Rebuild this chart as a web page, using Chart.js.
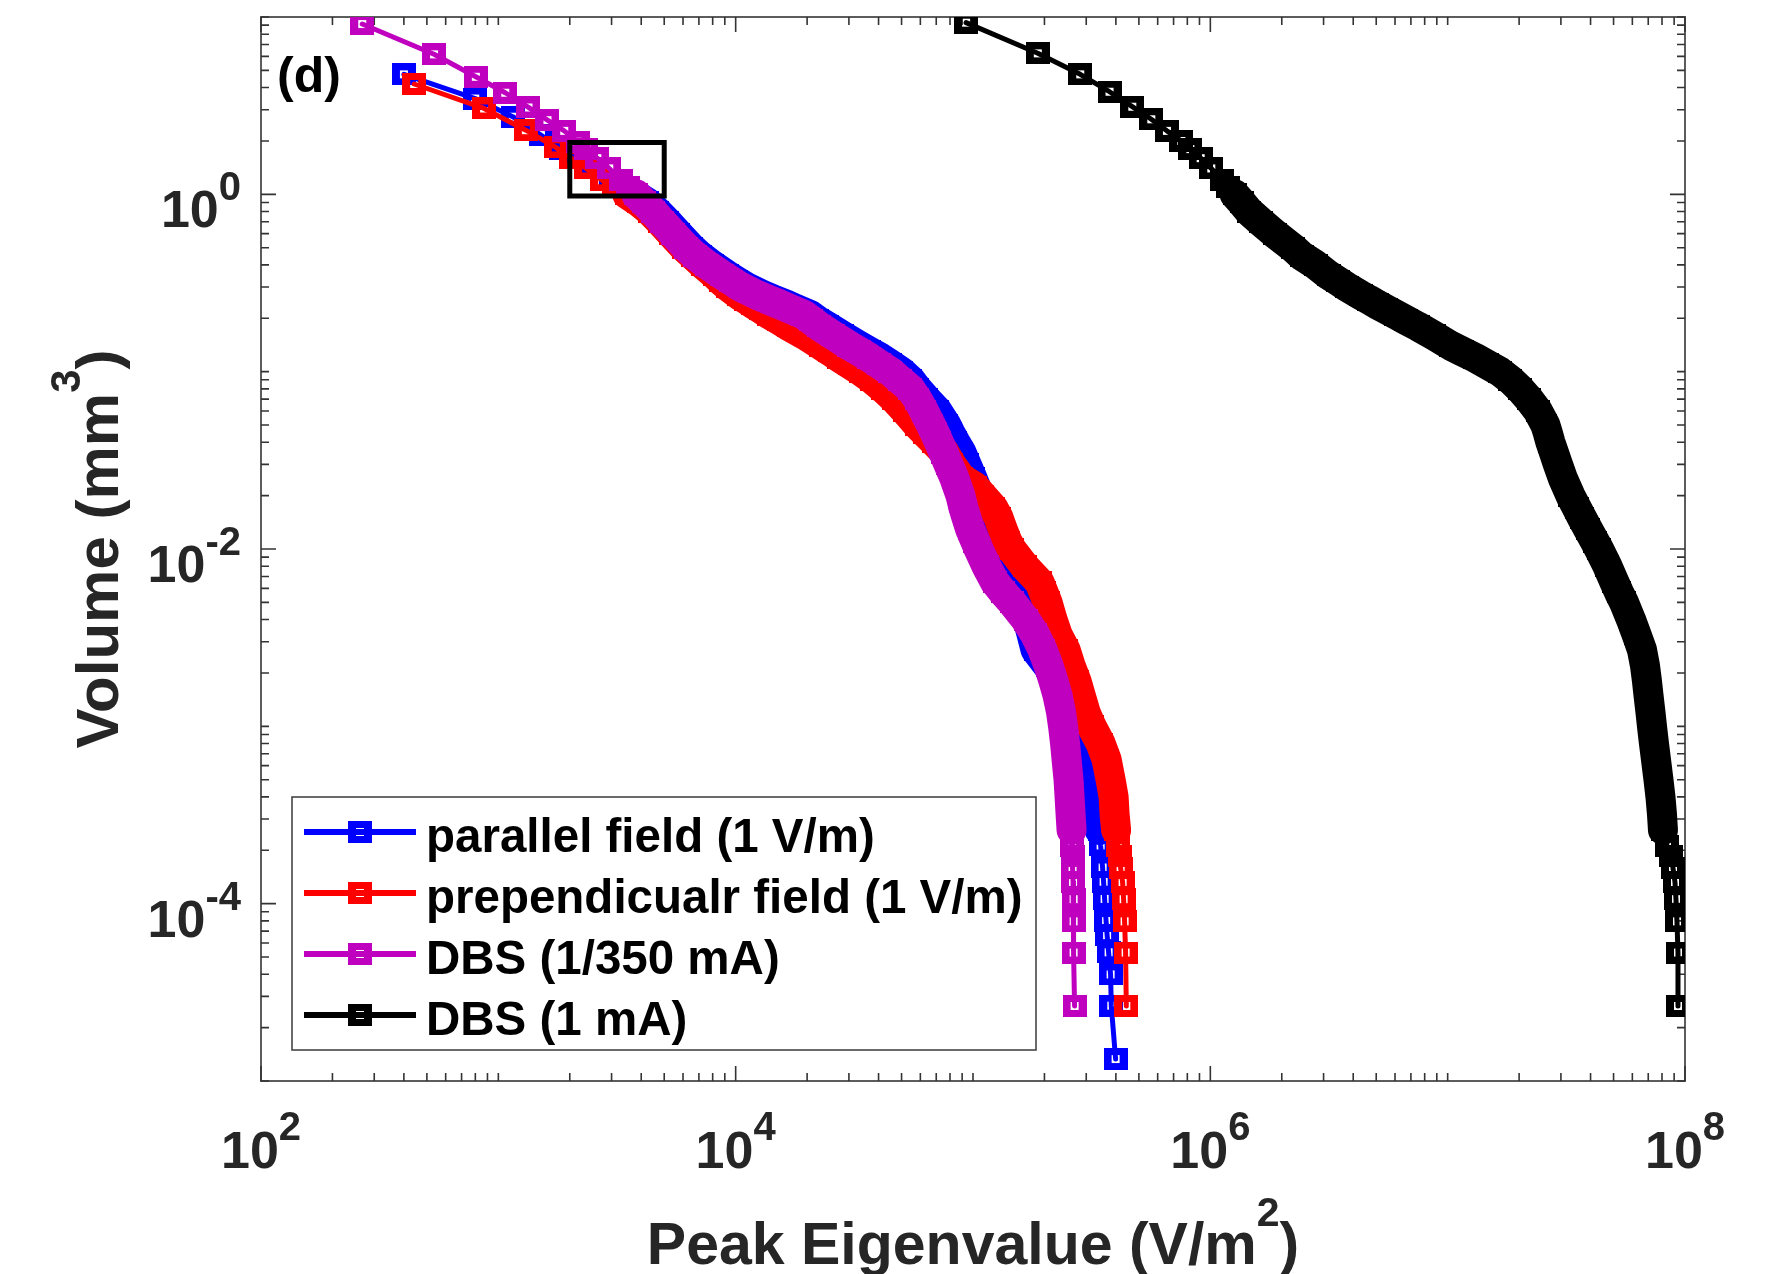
<!DOCTYPE html>
<html>
<head>
<meta charset="utf-8">
<script src="https://cdn.jsdelivr.net/npm/chart.js@4.4.1/dist/chart.umd.min.js"></script>
<style>
  html, body { margin: 0; padding: 0; background: #ffffff; }
  canvas { display: block; }
</style>
</head>
<body>
<canvas id="chart" width="1773" height="1274"></canvas>
<script>
// Cumulative volume (mm^3) above each peak eigenvalue threshold (V/m^2).

// parallel field (1 V/m)
const parallelEigen = [
  400, 799, 1150, 1511,
  1840, 2129, 2511, 2990, 3327, 3738, 4241, 4674, 5151, 5730,
  6502, 7096, 7972, 9222, 10070, 11090, 13080, 14410, 16200, 18030,
  20450, 22090, 24350, 28170, 33220, 36610, 40720, 44890, 49940, 54500,
  58340, 63670, 70850, 77310, 80370, 84370, 89430, 93890, 99520, 106500,
  111800, 117300, 123200, 129300, 133100, 142500, 151100, 156300, 161700, 169800, 176500,
  183400, 206100, 231500, 255200, 275700, 289400, 303900, 322100, 326900, 331700,
  338200, 341500,
  344900, 351600, 355000, 358500, 363700, 367300, 372600, 379900, 382500, 398900
];
const parallelVolume = [
  4.75, 3.47, 2.74, 2.16,
  1.8, 1.6, 1.4, 1.2, 1.1, 1.0, 0.9, 0.8, 0.7, 0.6,
  0.5, 0.45, 0.4, 0.35, 0.325, 0.3, 0.27, 0.255, 0.24, 0.225,
  0.21, 0.195, 0.18, 0.16, 0.14, 0.13, 0.12, 0.11, 0.1, 0.09,
  0.08, 0.07, 0.06, 0.05, 0.045, 0.04, 0.035, 0.03, 0.025, 0.02,
  0.017, 0.015, 0.013, 0.011, 0.01, 0.008, 0.0065, 0.0057, 0.005, 0.004, 0.0033,
  0.0027, 0.0022, 0.0018, 0.0015, 0.0012, 0.001, 0.0008, 0.00065, 0.0005, 0.0004,
  0.00032, 0.00026,
  0.000213, 0.00016, 0.000133, 0.0001064, 0.0000798, 0.0000665, 0.0000532, 0.0000399, 0.0000266, 0.0000133
];

// perpendicular field (1 V/m)
const perpEigen = [
  442, 871, 1306, 1746,
  2028, 2346, 2740, 3079, 3493, 3924, 4368, 4812, 5355,
  6075, 6629, 7305, 8207, 8700, 9314, 10360, 11090, 11870, 12830,
  13870, 15280, 16840, 19670, 22970, 25070, 27360, 30300, 33870, 37700,
  41950, 46670, 51930, 58340, 63060, 68800, 75820, 81150, 89430, 101500, 109600,
  122000, 128100, 133100, 139800, 145300, 164900, 190700, 198300, 206100, 216300, 227000,
  245500, 257700, 273100, 284000, 298100, 316000, 344900, 365500, 379900, 391200,
  395000, 400800,
  406700, 414700, 418700, 426900, 431000, 435200, 439500, 442500
];
const perpVolume = [
  4.19, 3.05, 2.30, 1.84,
  1.6, 1.4, 1.2, 1.1, 1.0, 0.9, 0.8, 0.7, 0.6,
  0.5, 0.45, 0.4, 0.35, 0.325, 0.3, 0.27, 0.255, 0.24, 0.225,
  0.21, 0.195, 0.18, 0.16, 0.14, 0.13, 0.12, 0.11, 0.1, 0.09,
  0.08, 0.07, 0.06, 0.05, 0.045, 0.04, 0.035, 0.03, 0.025, 0.0225, 0.02,
  0.017, 0.015, 0.013, 0.011, 0.01, 0.008, 0.0065, 0.0057, 0.005, 0.004, 0.0033,
  0.0027, 0.0022, 0.0018, 0.0015, 0.0012, 0.001, 0.0008, 0.00065, 0.0005, 0.0004,
  0.00032, 0.00026,
  0.000212, 0.0001855, 0.000159, 0.0001325, 0.000106, 0.0000795, 0.000053, 0.0000265
];

// DBS (1/350 mA)
const dbsLowEigen = [
  267, 536, 804, 1069, 1340, 1611, 1895, 2158,
  2346, 2611, 2933, 3295, 3527, 3811, 4120, 4496, 4907, 5459,
  6194, 6759, 7596, 8787, 9587, 10520, 12340, 13670, 15280, 17080,
  19290, 20840, 22530, 25810, 30160, 33220, 36610, 40330, 44890, 49220,
  54500, 58340, 62150, 66510, 69140, 71880, 75090, 78830, 83560, 88570,
  91180, 93890, 97120, 102400, 105500, 114000, 123800, 133800, 146000, 166500, 182600,
  196300, 208100, 218400, 227000, 235000, 239600, 244300, 247900, 252700, 255200,
  257700, 260200,
  261500, 262700, 262700, 264000, 265300, 265300, 265300, 267900
];
const dbsLowVolume = [
  9.13, 6.16, 4.6, 3.74, 3.09, 2.62, 2.28, 1.98,
  1.8, 1.6, 1.4, 1.2, 1.1, 1.0, 0.9, 0.8, 0.7, 0.6,
  0.5, 0.45, 0.4, 0.35, 0.325, 0.3, 0.27, 0.255, 0.24, 0.225,
  0.21, 0.195, 0.18, 0.16, 0.14, 0.13, 0.12, 0.11, 0.1, 0.09,
  0.08, 0.07, 0.06, 0.05, 0.045, 0.04, 0.035, 0.03, 0.025, 0.02,
  0.017, 0.015, 0.013, 0.011, 0.01, 0.008, 0.0065, 0.0057, 0.005, 0.004, 0.0033,
  0.0027, 0.0022, 0.0018, 0.0015, 0.0012, 0.001, 0.0008, 0.00065, 0.0005, 0.0004,
  0.00032, 0.00026,
  0.000212, 0.0001855, 0.000159, 0.0001325, 0.000106, 0.0000795, 0.000053, 0.0000265
];

// DBS (1 mA)
const dbsEigen = [
  9.35e4, 1.875e5, 2.83e5, 3.76e5, 4.69e5, 5.64e5, 6.56e5, 7.55e5,
  8.236e5, 9.105e5, 1.009e6, 1.121e6, 1.189e6, 1.266e6, 1.356e6, 1.458e6, 1.630e6, 1.867e6,
  2.224e6, 2.427e6, 2.781e6, 3.155e6, 3.443e6, 3.775e6, 4.303e6, 4.651e6, 5.027e6, 5.486e6,
  6.046e6, 6.694e6, 7.485e6, 8.743e6, 1.031e7, 1.153e7, 1.302e7, 1.463e7, 1.659e7, 1.838e7,
  2.015e7, 2.199e7, 2.400e7, 2.580e7, 2.644e7, 2.709e7, 2.803e7, 2.914e7, 3.059e7, 3.290e7,
  3.504e7, 3.678e7, 3.898e7, 4.173e7, 4.338e7, 4.713e7, 5.044e7, 5.268e7, 5.530e7, 5.920e7, 6.245e7,
  6.588e7, 6.782e7, 6.914e7, 7.017e7, 7.154e7, 7.259e7, 7.400e7, 7.546e7, 7.731e7, 7.882e7,
  7.997e7, 8.075e7,
  8.395e7, 8.727e7, 8.898e7, 9.072e7, 9.161e7, 9.250e7, 9.342e7, 9.342e7
];
const dbsVolume = [
  9.29, 6.24, 4.75, 3.79, 3.12, 2.65, 2.28, 2.0,
  1.8, 1.6, 1.4, 1.2, 1.1, 1.0, 0.9, 0.8, 0.7, 0.6,
  0.5, 0.45, 0.4, 0.35, 0.325, 0.3, 0.27, 0.255, 0.24, 0.225,
  0.21, 0.195, 0.18, 0.16, 0.14, 0.13, 0.12, 0.11, 0.1, 0.09,
  0.08, 0.07, 0.06, 0.05, 0.045, 0.04, 0.035, 0.03, 0.025, 0.02,
  0.017, 0.015, 0.013, 0.011, 0.01, 0.008, 0.0065, 0.0057, 0.005, 0.004, 0.0033,
  0.0027, 0.0022, 0.0018, 0.0015, 0.0012, 0.001, 0.0008, 0.00065, 0.0005, 0.0004,
  0.00032, 0.00026,
  0.000212, 0.0001855, 0.000159, 0.0001325, 0.000106, 0.0000795, 0.000053, 0.0000265
];

// highlighted region
const regionEigen = [2000, 5000, 5000, 2000, 2000];
const regionVolume = [0.98, 0.98, 1.96, 1.96, 0.98];

// labelled decades
const xTickValues = [1e2, 1e4, 1e6, 1e8];
const xTickExponents = ['2', '4', '6', '8'];
const yTickValues = [1e-4, 1e-2, 1e0];
const yTickExponents = ['-4', '-2', '0'];

const seriesLabels = ['parallel field (1 V/m)', 'prependicualr field (1 V/m)', 'DBS (1/350 mA)', 'DBS (1 mA)'];
const seriesColors = ['#0000ff', '#ff0000', '#bf00bf', '#000000'];

const FONT = '"Liberation Sans", Arial, Helvetica, sans-serif';
const TEXT = '#262626';

function toPoints(xs, ys) {
  return xs.map((x, i) => ({ x: x, y: ys[i] }));
}

// square marker, slightly wider than tall; hollow unless packed into the band
function squareMarker(color, hollow) {
  const c = document.createElement('canvas');
  c.width = 24; c.height = 22;
  const g = c.getContext('2d');
  g.fillStyle = color;
  g.fillRect(0, 0, 24, 22);
  if (hollow) g.clearRect(8, 7, 8, 8);
  return c;
}
const hollowMarkers = seriesColors.map(c => squareMarker(c, true));
const solidMarkers = seriesColors.map(c => squareMarker(c, false));

const seriesData = [
  toPoints(parallelEigen, parallelVolume),
  toPoints(perpEigen, perpVolume),
  toPoints(dbsLowEigen, dbsLowVolume),
  toPoints(dbsEigen, dbsVolume)
];
const drawOrder = [3, 2, 1, 4];
// index range where markers overlap into one continuous band
const bandRange = [[9, 66], [8, 66], [13, 70], [13, 70]];

const datasets = seriesData.map((pts, i) => {
  const [b0, b1] = bandRange[i];
  const inBand = k => k >= b0 && k <= b1;
  return {
    label: seriesLabels[i],
    data: pts,
    showLine: true,
    borderColor: seriesColors[i],
    backgroundColor: seriesColors[i],
    borderWidth: 5,
    borderJoinStyle: 'round',
    borderCapStyle: 'round',
    segment: {
      borderWidth: ctx => (inBand(ctx.p0DataIndex) && inBand(ctx.p1DataIndex)) ? 30 : 5
    },
    pointStyle: ctx => inBand(ctx.dataIndex) ? solidMarkers[i] : hollowMarkers[i],
    pointRadius: 11,
    pointHoverRadius: 11,
    order: drawOrder[i]
  };
});
datasets.push({
  label: 'region',
  data: toPoints(regionEigen, regionVolume),
  showLine: true,
  borderColor: '#000000',
  borderWidth: 5,
  borderCapStyle: 'square',
  borderJoinStyle: 'miter',
  pointRadius: 0,
  pointHoverRadius: 0,
  order: 0
});

// text made of runs with different sizes and baselines (for exponents)
function drawRich(g, parts, x, y, align) {
  const widths = parts.map(p => { g.font = 'bold ' + p.size + 'px ' + FONT; return g.measureText(p.text).width; });
  const total = widths.reduce((s, w) => s + w, 0);
  let cx = align === 'center' ? x - total / 2 : (align === 'right' ? x - total : x);
  g.textAlign = 'left';
  g.textBaseline = 'alphabetic';
  parts.forEach((p, i) => {
    g.font = 'bold ' + p.size + 'px ' + FONT;
    g.fillText(p.text, cx, y - (p.raise || 0));
    cx += widths[i];
  });
}

const axesFrame = {
  id: 'axesFrame',
  beforeDatasetsDraw(chart) {
    const g = chart.ctx, a = chart.chartArea;
    const xs = chart.scales.x, ys = chart.scales.y;
    g.save();
    g.strokeStyle = '#5c5c5c';
    g.lineWidth = 2;
    g.strokeRect(a.left, a.top, a.right - a.left, a.bottom - a.top);

    g.strokeStyle = '#333333';
    g.lineWidth = 1.6;
    g.beginPath();
    // x ticks: decades 10^2 .. 10^8, long ticks on labelled decades
    for (let d = 2; d <= 8; d++) {
      for (let m = 1; m <= 9; m++) {
        if (d === 8 && m > 1) break;
        const px = xs.getPixelForValue(m * Math.pow(10, d));
        const len = (m === 1 && d % 2 === 0) ? 15 : 8;
        g.moveTo(px, a.bottom); g.lineTo(px, a.bottom - len);
        g.moveTo(px, a.top); g.lineTo(px, a.top + len);
      }
    }
    // y ticks: decades 10^-5 .. 10^1, long ticks on labelled decades
    for (let d = -5; d <= 1; d++) {
      for (let m = 1; m <= 9; m++) {
        if (d === 1 && m > 1) break;
        const py = ys.getPixelForValue(m * Math.pow(10, d));
        const len = (m === 1 && d % 2 === 0 && d > -5) ? 15 : 8;
        g.moveTo(a.left, py); g.lineTo(a.left + len, py);
        g.moveTo(a.right, py); g.lineTo(a.right - len, py);
      }
    }
    g.stroke();
    g.restore();
  },
  afterDatasetsDraw(chart) {
    const g = chart.ctx, a = chart.chartArea;
    const xs = chart.scales.x, ys = chart.scales.y;
    g.save();
    g.fillStyle = TEXT;

    xTickValues.forEach((v, i) => {
      const px = xs.getPixelForValue(v);
      drawRich(g, [{ text: '10', size: 52 }, { text: xTickExponents[i], size: 40, raise: 28 }], px, a.bottom + 87, 'center');
    });
    yTickValues.forEach((v, i) => {
      const py = ys.getPixelForValue(v);
      drawRich(g, [{ text: '10', size: 52 }, { text: yTickExponents[i], size: 40, raise: 27 }], a.left - 20, py + 33, 'right');
    });

    // axis titles
    drawRich(g, [{ text: 'Peak Eigenvalue (V/m', size: 59 }, { text: '2', size: 41, raise: 38 }, { text: ')', size: 59 }],
      (a.left + a.right) / 2, 1264, 'center');
    g.save();
    g.translate(118, (a.top + a.bottom) / 2);
    g.rotate(-Math.PI / 2);
    drawRich(g, [{ text: 'Volume (mm', size: 60 }, { text: '3', size: 42, raise: 38 }, { text: ')', size: 60 }], 0, 0, 'center');
    g.restore();

    // panel tag
    g.fillStyle = '#000000';
    drawRich(g, [{ text: '(d)', size: 50 }], a.left + 16, 92, 'left');

    // legend
    const L = { left: 292, top: 797, right: 1036, bottom: 1050 };
    g.fillStyle = '#ffffff';
    g.fillRect(L.left, L.top, L.right - L.left, L.bottom - L.top);
    g.strokeStyle = '#3a3a3a';
    g.lineWidth = 1.5;
    g.strokeRect(L.left, L.top, L.right - L.left, L.bottom - L.top);
    seriesLabels.forEach((label, i) => {
      const cy = 832 + i * 61;
      g.strokeStyle = seriesColors[i];
      g.lineWidth = 6;
      g.beginPath();
      g.moveTo(304, cy); g.lineTo(416, cy);
      g.stroke();
      g.drawImage(hollowMarkers[i], 360 - 12, cy - 11);
      g.fillStyle = '#000000';
      drawRich(g, [{ text: label, size: 47.5 }], 426, cy + 20, 'left');
    });
    g.restore();
  }
};

new Chart(document.getElementById('chart'), {
  type: 'scatter',
  data: { datasets: datasets },
  options: {
    responsive: false,
    devicePixelRatio: 1,
    animation: false,
    events: [],
    layout: { padding: { left: 261, right: 88, top: 17, bottom: 193 } },
    scales: {
      x: { type: 'logarithmic', min: 1e2, max: 1e8, display: false },
      y: { type: 'logarithmic', min: 1e-5, max: 1e1, display: false }
    },
    plugins: {
      legend: { display: false },
      tooltip: { enabled: false }
    }
  },
  plugins: [axesFrame]
});
</script>
</body>
</html>
